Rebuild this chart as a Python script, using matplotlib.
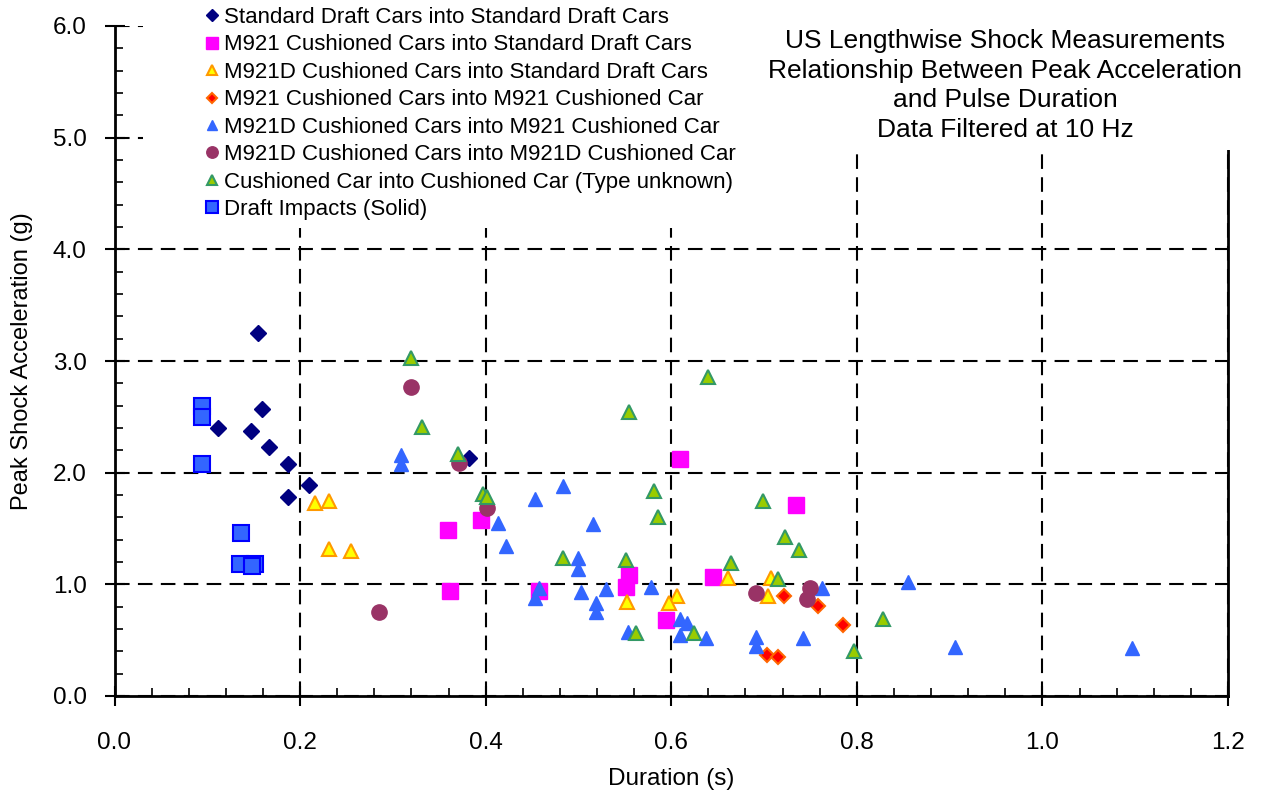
import matplotlib
matplotlib.use("Agg")
import matplotlib.pyplot as plt
from matplotlib.ticker import MultipleLocator
from matplotlib.patches import Rectangle

plt.rcParams['font.family'] = ['Liberation Sans', 'DejaVu Sans']

# Standard Draft Cars into Standard Draft Cars
std_x = [0.155, 0.159, 0.112, 0.147, 0.166, 0.187, 0.210, 0.187, 0.382]
std_y = [3.25, 2.57, 2.40, 2.37, 2.23, 2.08, 1.89, 1.78, 2.13]

# M921 Cushioned Cars into Standard Draft Cars
m921_std_x = [0.359, 0.362, 0.395, 0.609, 0.734, 0.645, 0.555, 0.551, 0.457, 0.594]
m921_std_y = [1.49, 0.94, 1.58, 2.12, 1.71, 1.07, 1.08, 0.98, 0.94, 0.68]

# M921D Cushioned Cars into Standard Draft Cars
m921d_std_x = [0.216, 0.231, 0.231, 0.255, 0.552, 0.606, 0.598, 0.661, 0.704, 0.708]
m921d_std_y = [1.73, 1.75, 1.32, 1.30, 0.84, 0.90, 0.83, 1.06, 0.90, 1.06]

# M921 Cushioned Cars into M921 Cushioned Car
m921_m921_x = [0.722, 0.758, 0.785, 0.703, 0.715]
m921_m921_y = [0.90, 0.81, 0.64, 0.37, 0.35]

# M921D Cushioned Cars into M921 Cushioned Car
m921d_m921_x = [0.309, 0.309, 0.483, 0.453, 0.413, 0.516, 0.422, 0.499, 0.499, 0.578,
                0.530, 0.503, 0.457, 0.453, 0.519, 0.519, 0.609, 0.617, 0.609, 0.637,
                0.553, 0.691, 0.691, 0.742, 0.762, 0.855, 0.906, 1.097]
m921d_m921_y = [2.16, 2.08, 1.88, 1.76, 1.55, 1.54, 1.34, 1.24, 1.14, 0.98,
                0.96, 0.93, 0.97, 0.88, 0.83, 0.75, 0.69, 0.65, 0.55, 0.52,
                0.57, 0.53, 0.45, 0.52, 0.97, 1.02, 0.44, 0.43]

# M921D Cushioned Cars into M921D Cushioned Car
m921d_m921d_x = [0.319, 0.371, 0.401, 0.285, 0.691, 0.750, 0.746]
m921d_m921d_y = [2.77, 2.09, 1.68, 0.75, 0.92, 0.97, 0.87]

# Cushioned Car into Cushioned Car (Type unknown)
unk_x = [0.319, 0.331, 0.370, 0.397, 0.401, 0.640, 0.555, 0.581, 0.586, 0.483,
         0.551, 0.562, 0.624, 0.664, 0.699, 0.723, 0.738, 0.715, 0.828, 0.797]
unk_y = [3.03, 2.41, 2.17, 1.81, 1.78, 2.86, 2.54, 1.84, 1.60, 1.24,
         1.22, 0.56, 0.56, 1.19, 1.75, 1.42, 1.31, 1.05, 0.69, 0.40]

# Draft Impacts (Solid)
draft_x = [0.094, 0.094, 0.094, 0.136, 0.135, 0.151, 0.148]
draft_y = [2.60, 2.50, 2.08, 1.46, 1.18, 1.18, 1.16]

W, H = 1261, 794
fig = plt.figure(figsize=(W / 100, H / 100), dpi=100)
ax = fig.add_axes([114.5 / W, 98 / H, 1113.5 / W, 670 / H])

ax.plot(std_x, std_y, 'D', ms=8, color='#000080', mec='#000080',
        label='Standard Draft Cars into Standard Draft Cars', zorder=3)
ax.plot(m921_std_x, m921_std_y, 's', ms=11, color='#FF00FF', mec='#FF00FF',
        label='M921 Cushioned Cars into Standard Draft Cars', zorder=3)
ax.plot(m921d_std_x, m921d_std_y, '^', ms=10, color='#FFFF00', mec='#FF9900', mew=1.5,
        label='M921D Cushioned Cars into Standard Draft Cars', zorder=3)
ax.plot(m921_m921_x, m921_m921_y, 'D', ms=7, color='#FF0000', mec='#FF6600', mew=1.5,
        label='M921 Cushioned Cars into M921 Cushioned Car', zorder=3)
ax.plot(m921d_m921_x, m921d_m921_y, '^', ms=10, color='#3366FF', mec='#3366FF',
        label='M921D Cushioned Cars into M921 Cushioned Car', zorder=3)
ax.plot(m921d_m921d_x, m921d_m921d_y, 'o', ms=11, color='#993366', mec='#993366',
        label='M921D Cushioned Cars into M921D Cushioned Car', zorder=3)
ax.plot(unk_x, unk_y, '^', ms=10, color='#99CC00', mec='#339966', mew=1.5,
        label='Cushioned Car into Cushioned Car (Type unknown)', zorder=3)
ax.plot(draft_x, draft_y, 's', ms=11, color='#3366FF', mec='#0000FF', mew=1.5,
        label='Draft Impacts (Solid)', zorder=3)

ax.set_xlim(0, 1.2)
ax.set_ylim(0, 6.0)
ax.xaxis.set_major_locator(MultipleLocator(0.2))
ax.xaxis.set_minor_locator(MultipleLocator(0.04))
ax.yaxis.set_major_locator(MultipleLocator(1.0))
ax.yaxis.set_minor_locator(MultipleLocator(0.2))
ax.xaxis.set_major_formatter(plt.FormatStrFormatter('%.1f'))
ax.yaxis.set_major_formatter(plt.FormatStrFormatter('%.1f'))
ax.tick_params(which='major', direction='inout', length=14, width=1.5, labelsize=17.5)
ax.tick_params(axis='x', which='major', pad=19)
ax.tick_params(axis='y', which='major', pad=13)
ax.tick_params(which='minor', direction='in', length=6, width=1.2)

ax.grid(True, which='major', color='black', linestyle=(0, (7, 4)), linewidth=1.5, zorder=1)
ax.set_axisbelow(True)
ax.spines['top'].set_visible(False)
for s in ['left', 'right', 'bottom']:
    ax.spines[s].set_linewidth(2)

ax.set_xlabel('Duration (s)', fontsize=17.5, labelpad=10)
ax.set_ylabel('Peak Shock Acceleration (g)', fontsize=17, labelpad=14)

# white boxes behind legend and title hide the grid there
ax.add_patch(Rectangle((143 / W, 1 - 228 / H), 609 / W, 228 / H, transform=fig.transFigure,
                       facecolor='white', edgecolor='none', zorder=4, clip_on=False))
ax.add_patch(Rectangle((752 / W, 1 - 150 / H), 509 / W, 150 / H, transform=fig.transFigure,
                       facecolor='white', edgecolor='none', zorder=4, clip_on=False))

leg = ax.legend(loc='upper left', bbox_to_anchor=(203 / W, 1 - 7 / H), bbox_transform=fig.transFigure,
                fontsize=16, frameon=False, markerscale=0.75, handlelength=0.8, handletextpad=0.15,
                labelspacing=0.29, borderpad=0, borderaxespad=0)
leg.set_zorder(5)

ax.text(1005 / W, 1 - 29 / H,
        'US Lengthwise Shock Measurements\nRelationship Between Peak Acceleration\n'
        'and Pulse Duration\nData Filtered at 10 Hz',
        transform=fig.transFigure, ha='center', va='top', fontsize=19, linespacing=1.3,
        zorder=5)

fig.savefig('out.png', dpi=100)
